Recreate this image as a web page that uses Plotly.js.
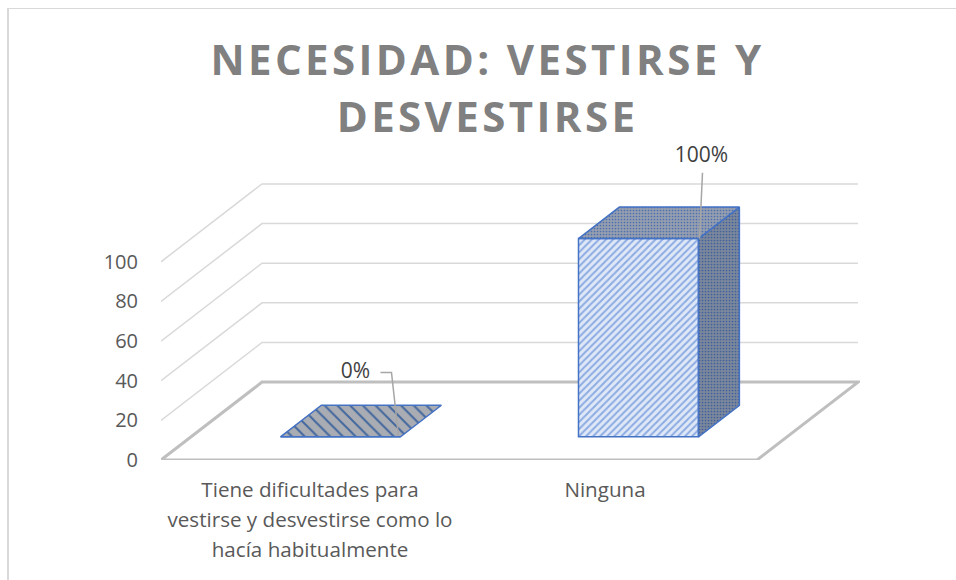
<!DOCTYPE html>
<html><head><meta charset="utf-8">
<script src="https://cdn.plot.ly/plotly-3.0.1.min.js"></script>
<style>
html,body{margin:0;padding:0;background:#fff;overflow:hidden}
#frame{position:absolute;left:7px;top:8px;width:949px;height:572px;border-left:2px solid #d9d9d9;border-top:1px solid #d9d9d9;box-sizing:border-box}
#chart{position:absolute;left:0;top:0;width:956px;height:580px}
.gtitle{letter-spacing:3.4px}
</style></head><body>
<div id="frame"></div><div id="chart"></div>
<script>
// Data
const categories = ['Tiene dificultades para<br>vestirse y desvestirse como lo<br>hacía habitualmente', 'Ninguna'];
const values = [0, 100];
const dataLabels = ['0%', '100%'];
const yTicks = [0, 20, 40, 60, 80, 100];
const titleLines = ['NECESIDAD: VESTIRSE Y', 'DESVESTIRSE'];

// Geometry of the pixel frame and oblique projection
const L = 161, R = 860, B = 460.5, T = 140, W = 956, H = 580;
const pxPerCat = 298, pxPerVal = 1.985;
const xPx = v => v / pxPerCat, yPx = v => v / pxPerVal;
const floorDX = xPx(101), floorDY = yPx(78);
const barFrontD = 0.285, barDepth = 0.405;
const barHalf = xPx(60), barShift = xPx(1.7), barLift = yPx(1);
const proj = (cat, val, d) => [cat + d * floorDX, val + d * floorDY];
const xMin = -0.5, xMax = 1.5;
const lineShape = (pts, color, width) => ({
  type: 'path', layer: 'below', xref: 'x', yref: 'y',
  path: pts.map((p, i) => (i ? 'L' : 'M') + p[0] + ',' + p[1]).join(' '),
  line: {color, width}
});
const shapes = [];
yTicks.filter(v => v > 0).forEach(v => {
  shapes.push(lineShape([proj(xMin, v, 0), proj(xMin, v, 1), proj(xMax, v, 1)], '#d9d9d9', 1.5));
});
shapes.push(lineShape([proj(xMin, 0, 0), proj(xMax, 0, 0), proj(xMax, 0, 1), proj(xMin, 0, 1), proj(xMin, 0, 0)], '#bfbfbf', 3));

const blue = '#4472c4';
const poly = (pts, pattern, name) => ({
  type: 'scatter', mode: 'lines', x: pts.map(p => p[0]), y: pts.map(p => p[1]),
  fill: 'toself', fillcolor: pattern.bgcolor, fillpattern: pattern,
  line: {color: blue, width: 1.5}, hoverinfo: 'skip', showlegend: false, name, cliponaxis: false
});

const traces = [];
const frontBase = proj(0, barLift, barFrontD)[1];
const frontOffset = proj(0, 0, barFrontD)[0] + barShift;
traces.push({
  type: 'bar', x: values.map((v, i) => i + frontOffset), y: values, base: values.map(() => frontBase),
  width: barHalf * 2,
  marker: {color: '#d8e3f5', line: {color: blue, width: 1.5},
           pattern: {shape: '/', bgcolor: '#dfe8f7', fgcolor: '#8cabe2', size: 5, solidity: 0.4, fillmode: 'replace'}},
  showlegend: false, hoverinfo: 'skip'
});
values.forEach((v, i) => {
  const a = barFrontD, b = barFrontD + barDepth;
  const l = i + barShift - barHalf, r = i + barShift + barHalf;
  const t = v + barLift, z = barLift;
  if (v > 0) {
    traces.push(poly([proj(r, z, a), proj(r, z, b), proj(r, t, b), proj(r, t, a), proj(r, z, a)],
      {shape: '.', bgcolor: '#7b879b', fgcolor: '#3f5f9e', size: 3, solidity: 0.25}, 'side'));
    traces.push(poly([proj(l, t, a), proj(r, t, a), proj(r, t, b), proj(l, t, b), proj(l, t, a)],
      {shape: '.', bgcolor: '#959eae', fgcolor: '#4a6fb2', size: 3, solidity: 0.25}, 'top'));
  } else {
    traces.push(poly([proj(l, t, a), proj(r, t, a), proj(r, t, b), proj(l, t, b), proj(l, t, a)],
      {shape: '\\', bgcolor: '#a9acb2', fgcolor: '#44689f', size: 9, solidity: 0.22}, 'top'));
  }
});
// leader lines and labels, offset from each bar's front top-right corner
const leaderOffsets = [[[-20, 64.5], [-9, 64.5], [-2, 1]], [[4, 66], [1, 0]]];
const labelOffsets = [[-45, 64], [3, 82]];
const corner = i => proj(i + barShift + barHalf, values[i] + barLift, barFrontD);
leaderOffsets.forEach((pts, i) => {
  const c = corner(i);
  traces.push({type: 'scatter', mode: 'lines', x: pts.map(p => c[0] + xPx(p[0])), y: pts.map(p => c[1] + yPx(p[1])),
    line: {color: '#a6a6a6', width: 1.5}, hoverinfo: 'skip', showlegend: false, cliponaxis: false});
});
traces.push({type: 'scatter', mode: 'text',
  x: labelOffsets.map((o, i) => corner(i)[0] + xPx(o[0])),
  y: labelOffsets.map((o, i) => corner(i)[1] + yPx(o[1])),
  text: dataLabels, textposition: 'middle center',
  textfont: {family: '"Open Sans", sans-serif', size: 21, color: '#404040'},
  hoverinfo: 'skip', showlegend: false, cliponaxis: false});

const span = (t, s) => '<span style="font-size:' + s + 'px">' + t + '</span>';
const layout = {
  width: W, height: H, paper_bgcolor: 'rgba(0,0,0,0)', plot_bgcolor: 'rgba(0,0,0,0)',
  margin: {l: L, r: W - R, t: T, b: H - B, pad: 0},
  showlegend: false, shapes,
  title: {text: titleLines.map(t => span(t, 42)).join('<br>'), x: 487.5 / W, xanchor: 'center', y: 1 - 75 / H, yanchor: 'top',
          font: {family: '"Open Sans", sans-serif', size: 44, weight: 700, color: '#808080'}},
  xaxis: {range: [xMin, xMin + (R - L) / pxPerCat], showgrid: false, zeroline: false, showline: false,
          tickmode: 'array', tickvals: [0, 1 - xPx(3)],
          ticktext: categories.map(c => c.split('<br>').map(t => span(t, 20.6)).join('<br>')),
          tickfont: {family: '"Open Sans", sans-serif', size: 23, color: '#595959'}, ticklabelstandoff: 13, tickangle: 0, automargin: false},
  yaxis: {range: [0, (B - T) / pxPerVal], showgrid: false, zeroline: false, showline: false,
          tickmode: 'array', tickvals: yTicks, ticktext: yTicks.map(String),
          tickfont: {family: '"Open Sans", sans-serif', size: 20, color: '#595959'}, ticklabelstandoff: 22, automargin: false},
  barmode: 'overlay', hovermode: false
};
Plotly.newPlot('chart', traces, layout, {displayModeBar: false, staticPlot: true});
</script></body></html>
